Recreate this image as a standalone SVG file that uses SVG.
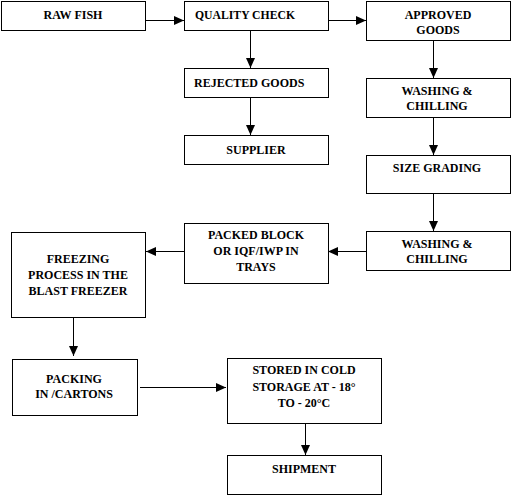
<svg xmlns="http://www.w3.org/2000/svg" width="512" height="504" viewBox="0 0 512 504">
<style>
.box{fill:#fff;stroke:#000;stroke-width:1}
text{font-family:'Liberation Serif','Times New Roman',serif;font-weight:bold;font-size:12px;fill:#000}
.c{text-anchor:middle}
.ln{stroke:#000;stroke-width:1;fill:none;marker-end:url(#ah)}
</style>
<defs>
<marker id="ah" markerUnits="userSpaceOnUse" markerWidth="10" markerHeight="10" refX="10" refY="4.5" orient="auto" viewBox="0 0 10 9">
<path d="M0,0 L10,4.5 L0,9 z" fill="#000"/>
</marker>
</defs>
<rect width="512" height="504" fill="#fff"/>
<g id="connectors">
<line class="ln" x1="146" y1="20.5" x2="184" y2="20.5"/>
<line class="ln" x1="328" y1="20.5" x2="366" y2="20.5"/>
<line class="ln" x1="250.5" y1="30" x2="250.5" y2="68"/>
<line class="ln" x1="250.5" y1="97" x2="250.5" y2="135"/>
<line class="ln" x1="433.5" y1="40" x2="433.5" y2="78"/>
<line class="ln" x1="433.5" y1="117" x2="433.5" y2="155"/>
<line class="ln" x1="433.5" y1="193" x2="433.5" y2="231"/>
<line class="ln" x1="366" y1="251.5" x2="328" y2="251.5"/>
<line class="ln" x1="184" y1="251.5" x2="146" y2="251.5"/>
<line class="ln" x1="73.5" y1="317" x2="73.5" y2="356"/>
<line class="ln" x1="140" y1="387.5" x2="226" y2="387.5"/>
<line class="ln" x1="305.5" y1="423" x2="305.5" y2="455"/>
</g>
<g id="raw-fish"><rect class="box" x="1.5" y="1.5" width="144" height="29"/><text class="c" x="73" y="19">RAW FISH</text></g>
<g id="quality-check"><rect class="box" x="184.5" y="1.5" width="144" height="29"/><text x="195" y="19" textLength="100" lengthAdjust="spacingAndGlyphs">QUALITY CHECK</text></g>
<g id="approved-goods"><rect class="box" x="366.5" y="1.5" width="144" height="39"/><text class="c" x="438" y="19">APPROVED</text><text class="c" x="438" y="34">GOODS</text></g>
<g id="rejected-goods"><rect class="box" x="184.5" y="68.5" width="144" height="29"/><text x="194" y="87">REJECTED GOODS</text></g>
<g id="supplier"><rect class="box" x="184.5" y="135.5" width="144" height="29"/><text class="c" x="256" y="154">SUPPLIER</text></g>
<g id="washing-chilling-1"><rect class="box" x="366.5" y="78.5" width="144" height="39"/><text class="c" x="437" y="95">WASHING &amp;</text><text class="c" x="437" y="110">CHILLING</text></g>
<g id="size-grading"><rect class="box" x="366.5" y="155.5" width="144" height="38"/><text class="c" x="437" y="172">SIZE GRADING</text></g>
<g id="washing-chilling-2"><rect class="box" x="366.5" y="231.5" width="144" height="39"/><text class="c" x="437" y="248">WASHING &amp;</text><text class="c" x="437" y="263">CHILLING</text></g>
<g id="packed-block"><rect class="box" x="184.5" y="223.5" width="144" height="60"/><text class="c" x="256" y="239">PACKED BLOCK</text><text class="c" x="256" y="255">OR IQF/IWP IN</text><text class="c" x="256" y="271">TRAYS</text></g>
<g id="freezing"><rect class="box" x="11.5" y="232.5" width="134" height="85"/><text class="c" x="78" y="263">FREEZING</text><text class="c" x="78" y="279">PROCESS IN THE</text><text class="c" x="78" y="295">BLAST FREEZER</text></g>
<g id="packing"><rect class="box" x="12.5" y="359.5" width="125" height="56"/><text class="c" x="74" y="383">PACKING</text><text class="c" x="74" y="398">IN /CARTONS</text></g>
<g id="stored"><rect class="box" x="227.5" y="358.5" width="154" height="65"/><text class="c" x="304" y="374">STORED IN COLD</text><text class="c" x="304" y="391">STORAGE AT - 18°</text><text class="c" x="304" y="407">TO - 20°C</text></g>
<g id="shipment"><rect class="box" x="227.5" y="455.5" width="154" height="39"/><text class="c" x="304" y="473">SHIPMENT</text></g>
</svg>
